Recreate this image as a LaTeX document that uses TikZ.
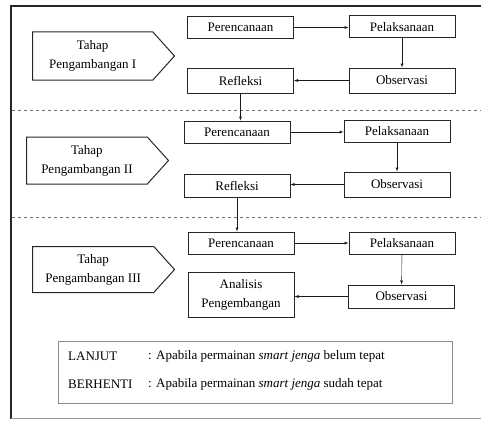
\documentclass[tikz,border=0pt]{standalone}
\usepackage{fontspec}
\setmainfont{Liberation Serif}
\usetikzlibrary{shapes.symbols}
\begin{document}
\begin{tikzpicture}[x=1pt,y=-1pt,
    font=\fontsize{13}{19}\selectfont,
    box/.style={draw=black!85,line width=1pt,minimum width=106pt,minimum height=22pt,inner sep=1pt},
    stage/.style={draw=black!85,line width=1pt,signal,signal to=east,signal pointer angle=96,minimum width=142pt,align=center,inner sep=2pt,anchor=west},
    flow/.style={thin,-latex,black!90}]
    \useasboundingbox (0,0) rectangle (481,420);
    \draw[line width=2pt,black!85] (481,6) -- (11,6) -- (11,419);
    \draw[black!40] (11,418) -- (481,418);
    \draw[black!55,dashed,thin] (12,110) -- (481,110) (12,217) -- (481,217);
    \node[stage,minimum height=48pt] (stage1) at (32,56) {Tahap\\Pengambangan I};
    \node[box] (plan1) at (240.5,27.5) {Perencanaan};
    \node[box] (act1) at (402,27) {Pelaksanaan};
    \node[box,minimum height=25pt] (obs1) at (402,80.5) {Observasi};
    \node[box,minimum height=25pt] (refl1) at (240.5,80.5) {Refleksi};
    \node[stage,minimum height=47pt] (stage2) at (26,160.5) {Tahap\\Pengambangan II};
    \node[box] (plan2) at (237,132) {Perencanaan};
    \node[box] (act2) at (397,131.5) {Pelaksanaan};
    \node[box,minimum height=25pt] (obs2) at (397,184.5) {Observasi};
    \node[box,minimum height=23pt] (refl2) at (237,185.5) {Refleksi};
    \node[stage,minimum height=46pt] (stage3) at (32,269.5) {Tahap\\Pengambangan III};
    \node[box] (plan3) at (241,243) {Perencanaan};
    \node[box] (act3) at (402,243) {Pelaksanaan};
    \node[box,minimum height=23pt] (obs3) at (401.5,296.5) {Observasi};
    \node[box,minimum height=45pt,align=center] (anal3) at (241,294.5) {Analisis\\Pengembangan};
    \draw[flow] (plan1) -- (act1.west |- plan1);
    \draw[flow] (act1) -- (obs1);
    \draw[flow] (obs1) -- (refl1);
    \draw[flow] (refl1.south) -- (refl1.south |- plan2.north);
    \draw[flow] (plan2) -- (act2.west |- plan2);
    \draw[flow] (act2) -- (obs2);
    \draw[flow] (obs2) -- (refl2.east |- obs2);
    \draw[flow] (refl2.south) -- (refl2.south |- plan3.north);
    \draw[flow] (plan3) -- (act3.west |- plan3);
    \draw[flow] (act3) -- (obs3);
    \draw[flow] (obs3) -- (anal3.east |- obs3);
    \node[draw=black!45,thin,minimum width=394pt,minimum height=62pt] (legend) at (255,372) {};
    \node[anchor=west,inner sep=0pt] (lanjut) at (68,356) {LANJUT};
    \node[anchor=west,inner sep=0pt] (lanjutket) at (148,356) {: Apabila permainan \textit{smart jenga} belum tepat};
    \node[anchor=west,inner sep=0pt] (berhenti) at (68,384) {BERHENTI};
    \node[anchor=west,inner sep=0pt] (berhentiket) at (148,384) {: Apabila permainan \textit{smart jenga} sudah tepat};
\end{tikzpicture}
\end{document}
